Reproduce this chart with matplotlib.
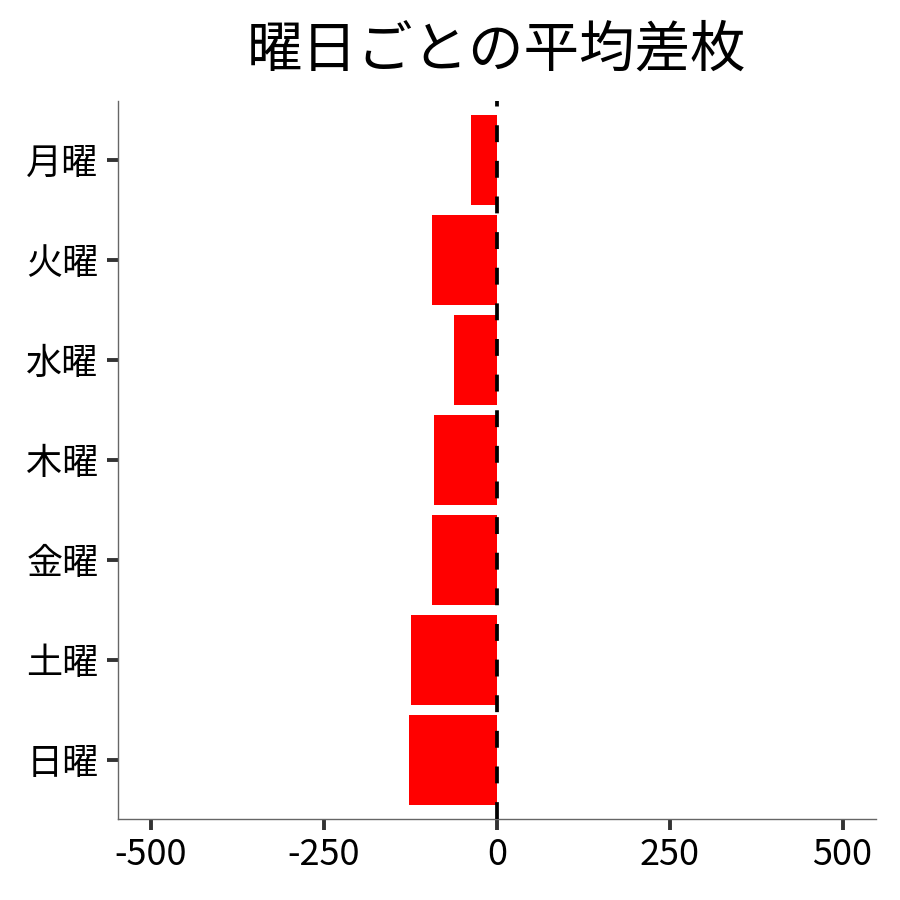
import matplotlib
matplotlib.use('Agg')
import matplotlib.pyplot as plt

plt.rcParams['font.family'] = ['Noto Sans CJK JP', 'DejaVu Sans']

# 曜日ごとの平均差枚
days = ['月曜', '火曜', '水曜', '木曜', '金曜', '土曜', '日曜']
avg_diff = [-38, -94, -62, -91, -93, -124, -127]
xticks = [-500, -250, 0, 250, 500]

fig = plt.figure(figsize=(9, 9), dpi=100)
ax = fig.add_axes([0.131, 0.09, 0.842, 0.798])

ypos = list(range(len(days)))[::-1]
ax.barh(ypos, avg_diff, height=0.9, color='#ff0000', zorder=2)
ax.axvline(0, color='black', linewidth=2.7, linestyle=(0, (4.5, 5)), zorder=3)

ax.set_xlim(-548, 548)
ax.set_ylim(-0.59, 6.59)
ax.set_yticks(ypos)
ax.set_yticklabels(days)
ax.set_xticks(xticks)
ax.set_xticklabels([str(v) for v in xticks])

ax.tick_params(axis='both', labelsize=26, width=2.8, length=8, color='#333333', pad=5)
ax.tick_params(axis='y', pad=6)
for side in ['top', 'right']:
    ax.spines[side].set_visible(False)
for side in ['left', 'bottom']:
    ax.spines[side].set_color('#666666')
    ax.spines[side].set_linewidth(1)

ax.set_title('曜日ごとの平均差枚', fontsize=40, pad=25)

fig.savefig('out.png', dpi=100)
